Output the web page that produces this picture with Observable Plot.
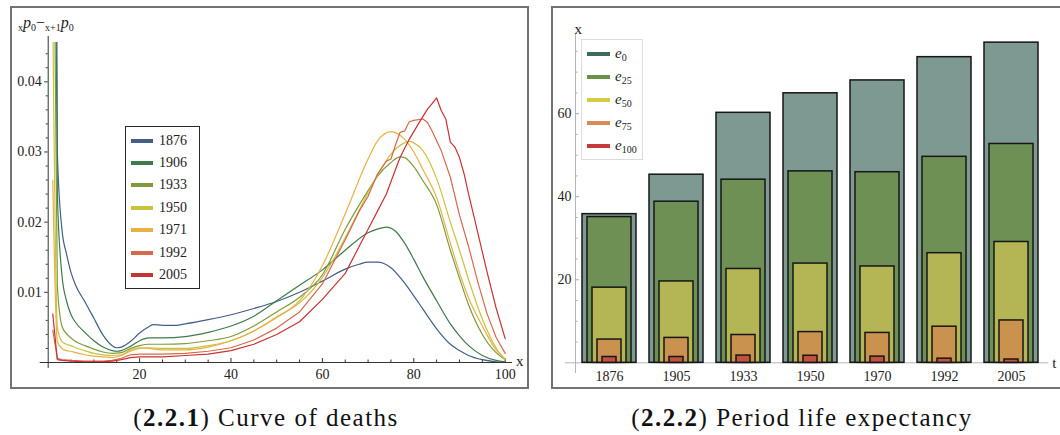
<!DOCTYPE html>
<html>
<head>
<meta charset="utf-8">
<script src="https://cdn.jsdelivr.net/npm/d3@7"></script>
<script src="https://cdn.jsdelivr.net/npm/@observablehq/plot@0.6"></script>
<style>
  html, body { margin: 0; padding: 0; background: #fff; }
  #page { position: relative; width: 1060px; height: 435px; overflow: hidden; font-family: "Liberation Serif", serif; color: #222; }
  .plotbox { position: absolute; }
  .plotbox svg { display: block; max-width: none; background: transparent; }
  .plotbox svg, .plotbox svg text { font-family: "Liberation Serif", serif !important; }
  .frame { position: absolute; border: 2px solid #737373; box-sizing: border-box; pointer-events: none; }
  .legend { position: absolute; background: #fff; box-sizing: border-box; }
  .legend .item { position: absolute; left: 0; height: 0; }
  .legend .sw { position: absolute; height: 4px; top: -2px; }
  .legend .lab { position: absolute; top: 0; transform: translateY(-50%); white-space: nowrap; line-height: 1; }
  .cap { position: absolute; text-align: center; font-size: 25px; letter-spacing: 1.5px; line-height: 28px; font-family: "Liberation Serif", serif; color: #111; }
  .cap b { font-weight: bold; }
</style>
</head>
<body>
<div id="page"></div>
<script>
// ---------- Curve of deaths: xp0 - x+1p0 by age, per period ----------
const deathYears = ["1876", "1906", "1933", "1950", "1971", "1992", "2005"];
const deathColors = ["#415f87", "#3f7a4a", "#7e9c3c", "#cbc23e", "#e8b045", "#d8694a", "#c83232"];

const age1876 = [1,2,3,4,5,6,8,10,12,14,15,16,18,20,22,23,25,28,30,35,40,45,50,55,60,65,68,70,72,75,78,80,82,85,88,90,92,95,98,100];
const d1876   = [0.19,0.030,0.019,0.0155,0.0128,0.0110,0.0087,0.0063,0.0039,0.0024,0.0021,0.0022,0.0030,0.0042,0.0051,0.0054,0.0053,0.0053,0.0055,0.0061,0.0068,0.0077,0.0087,0.0100,0.0116,0.0133,0.0140,0.0143,0.0143,0.0135,0.0113,0.0095,0.0076,0.0048,0.0026,0.0017,0.0010,0.0004,0.0001,0.0000];

const age1906 = [1,2,3,4,5,6,8,10,12,14,15,16,18,20,22,25,30,35,40,45,50,55,60,65,70,72,74,76,78,80,82,85,88,90,92,95,98,100];
const d1906   = [0.12,0.024,0.0125,0.0088,0.0068,0.0057,0.0043,0.0031,0.0022,0.0017,0.0016,0.0017,0.0023,0.0031,0.0035,0.0035,0.0037,0.0043,0.0052,0.0066,0.0088,0.0110,0.0132,0.0160,0.0185,0.0190,0.0193,0.0187,0.0170,0.0147,0.0122,0.0088,0.0055,0.0038,0.0024,0.0010,0.0003,0.0001];

const age1933 = [1,2,3,4,5,6,8,10,12,14,16,18,20,22,25,30,35,40,45,50,55,60,65,70,72,75,77,78,80,82,85,88,90,92,95,98,100];
const d1933   = [0.080,0.011,0.0052,0.0041,0.0035,0.0030,0.0024,0.0019,0.0015,0.0013,0.0014,0.0020,0.0024,0.0026,0.0026,0.0027,0.0031,0.0037,0.0052,0.0072,0.0093,0.0125,0.0190,0.0245,0.0265,0.0285,0.0293,0.0292,0.0279,0.0259,0.0225,0.0160,0.0120,0.0082,0.0040,0.0014,0.0004];

const age1950 = [1,2,3,4,5,6,8,10,12,14,16,18,20,22,25,30,35,40,45,50,55,60,65,70,72,75,78,79,80,82,85,88,90,92,95,98,100];
const d1950   = [0.050,0.0050,0.0030,0.0026,0.0024,0.0021,0.0017,0.0013,0.0011,0.0010,0.0011,0.0016,0.0020,0.0021,0.0020,0.0020,0.0024,0.0031,0.0045,0.0065,0.0085,0.0121,0.0178,0.0242,0.0266,0.0297,0.0313,0.0315,0.0313,0.0302,0.0262,0.0200,0.0160,0.0118,0.0062,0.0021,0.0004];

const age1971 = [1,2,3,4,5,6,8,10,12,14,16,18,20,22,25,30,35,40,45,50,55,60,65,70,72,75,78,80,82,85,88,90,92,95,98,100];
const d1971   = [0.026,0.0030,0.0020,0.0017,0.0016,0.0014,0.0011,0.0009,0.0008,0.0007,0.0010,0.0018,0.0021,0.0020,0.0018,0.0018,0.0022,0.0031,0.0045,0.0064,0.0088,0.0138,0.0212,0.0290,0.0315,0.0329,0.0318,0.0300,0.0275,0.0235,0.0170,0.0128,0.0092,0.0052,0.0018,0.0005];

const age1992 = [1,2,3,5,8,10,12,14,16,18,20,22,25,30,35,40,45,50,55,60,65,68,70,72,74,75,76,77,78,79,80,82,83,84,85,86,88,90,92,94,96,98,100];
const d1992   = [0.0046,0.0006,0.0004,0.0003,0.0002,0.0002,0.0002,0.0003,0.0006,0.0011,0.0012,0.0012,0.0012,0.0013,0.0016,0.0021,0.0032,0.0049,0.0072,0.0112,0.0175,0.0215,0.0237,0.0268,0.0287,0.0290,0.0310,0.0328,0.0330,0.0343,0.0345,0.0347,0.0342,0.0330,0.0316,0.0302,0.0264,0.0210,0.0165,0.0115,0.0070,0.0036,0.0013];

const age2005 = [1,2,3,5,8,10,12,14,16,18,20,25,30,35,40,45,50,55,60,65,70,72,74,76,77,79,81,83,84,85,86,87,88,89,90,91,92,94,96,98,100];
const d2005   = [0.0069,0.0004,0.0003,0.0002,0.0001,0.0001,0.0001,0.0002,0.0004,0.0007,0.0008,0.0008,0.0010,0.0012,0.0017,0.0026,0.0040,0.0058,0.0090,0.0127,0.0190,0.0215,0.0240,0.0275,0.0292,0.0318,0.0340,0.0361,0.0369,0.0377,0.0359,0.0347,0.0314,0.0307,0.0292,0.0269,0.0240,0.0185,0.0130,0.0078,0.0034];

const deathAges = [age1876, age1906, age1933, age1950, age1971, age1992, age2005];
const deathValues = [d1876, d1906, d1933, d1950, d1971, d1992, d2005];

const yTicksLeft = [0.01, 0.02, 0.03, 0.04];
const yMinorLeft = [0.002, 0.004, 0.006, 0.008, 0.012, 0.014, 0.016, 0.018, 0.022, 0.024, 0.026, 0.028, 0.032, 0.034, 0.036, 0.038, 0.042, 0.044];
const xTicksLeft = [20, 40, 60, 80, 100];
const xMinorLeft = [5, 10, 15, 25, 30, 35, 45, 50, 55, 65, 70, 75, 85, 90, 95];

// ---------- Period life expectancy ----------
const periods = ["1876", "1905", "1933", "1950", "1970", "1992", "2005"];
const e0   = [35.8, 45.3, 60.2, 64.9, 68.0, 73.6, 77.1];
const e25  = [35.1, 38.8, 44.1, 46.1, 45.9, 49.6, 52.7];
const e50  = [18.1, 19.6, 22.6, 23.9, 23.2, 26.4, 29.1];
const e75  = [5.6, 6.0, 6.7, 7.4, 7.2, 8.7, 10.2];
const e100 = [1.4, 1.4, 1.75, 1.7, 1.5, 1.0, 0.8];
const expSubs = ["0", "25", "50", "75", "100"];
const expFills = ["#7e9991", "#6e9055", "#b4b655", "#c9924e", "#c2513f"];
const expSwatches = ["#3e6b5e", "#6b9345", "#d6c943", "#d98a55", "#c53b3d"];
const yTicksRight = [20, 40, 60];
const yMinorRight = [5, 10, 15, 25, 30, 35, 45, 50, 55, 65, 70, 75];

const page = document.getElementById("page");
const serif = "Liberation Serif, serif";

// every text in the plots is set in the serif face
function serifize(svg) {
  d3.select(svg).selectAll("g, text, tspan").attr("font-family", serif).style("font-family", serif);
  d3.select(svg).style("font-family", serif);
  return svg;
}

// ---------- left chart ----------
const deathRows = deathYears.flatMap((yr, k) =>
  deathAges[k].map((a, i) => ({year: yr, age: a, d: deathValues[k][i]})));

const left = Plot.plot({
  width: 518, height: 381,
  marginLeft: 37.7, marginRight: 16, marginTop: 35, marginBottom: 26,
  style: {fontFamily: serif, fontSize: "13px", color: "#222", background: "transparent", overflow: "visible"},
  x: {domain: [0, 101.6], axis: null},
  y: {domain: [0, 0.0456], axis: null},
  color: {domain: deathYears, range: deathColors},
  marks: [
    Plot.ruleY([0], {stroke: "#333", strokeWidth: 1, insetLeft: -8}),
    Plot.ruleX([0], {stroke: "#333", strokeWidth: 1, insetTop: -6, insetBottom: -6}),
    Plot.axisY(yMinorLeft, {tickSize: 2, stroke: "#333", tickFormat: () => "", label: null}),
    Plot.axisY(yTicksLeft, {tickSize: 3.5, stroke: "#333", tickPadding: 3, tickFormat: d3.format(".2f"), label: null, fontSize: 14, fontFamily: serif}),
    Plot.axisX(xMinorLeft, {tickSize: -2.5, stroke: "#333", tickFormat: () => "", label: null}),
    Plot.axisX(xTicksLeft, {tickSize: -4, stroke: "#333", tickFormat: () => "", label: null}),
    Plot.axisX(xTicksLeft, {tickSize: 0, tickPadding: 7, label: null, fontSize: 14, fontFamily: serif}),
    Plot.line(deathRows, {x: "age", y: "d", z: "year", stroke: "year",
      curve: "monotone-x", strokeWidth: 1.2, clip: true,
      filter: d => d.year !== "1992" && d.year !== "2005"}),
    Plot.line(deathRows, {x: "age", y: "d", z: "year", stroke: "year",
      curve: "linear", strokeWidth: 1.2, clip: true,
      filter: d => d.year === "1992" || d.year === "2005"}),
    Plot.text(["x"], {frameAnchor: "bottom-right", dx: 11, dy: 3, fontSize: 15, fontFamily: serif})
  ]
});

// axis label  xp0 − x+1p0
{
  const svg = d3.select(left);
  const t = svg.append("text")
    .attr("x", 8).attr("y", 21)
    .attr("text-anchor", "start")
    .attr("font-size", 16).attr("fill", "#222");
  const sub = (s) => t.append("tspan").attr("font-size", 10).attr("dy", 3).text(s);
  const up = (s, italic) => t.append("tspan").attr("font-size", 16).attr("dy", -3)
      .attr("font-style", italic ? "italic" : null).text(s);
  sub("x");
  up("p", true);
  sub("0");
  up("\u2212", false);
  sub("x+1");
  up("p", true);
  sub("0");
}
serifize(left);

const leftBox = document.createElement("div");
leftBox.className = "plotbox";
leftBox.style.left = "10px"; leftBox.style.top = "7px";
leftBox.appendChild(left);
page.appendChild(leftBox);

// ---------- right chart ----------
const expValues = [e0, e25, e50, e75, e100];
const expRows = expValues.map(vals => periods.map((p, i) => ({period: p, value: vals[i]})));

const right = Plot.plot({
  width: 510, height: 381,
  marginLeft: 23, marginRight: 14, marginTop: 26, marginBottom: 16,
  style: {fontFamily: serif, fontSize: "13px", color: "#222", background: "transparent", overflow: "visible"},
  x: {type: "band", domain: periods, paddingInner: 0.19, paddingOuter: 0.104, align: 0.43, axis: null},
  y: {domain: [-2.33, 79.3], axis: null},
  marks: [
    Plot.ruleY([0], {stroke: "#b5b5b5", strokeWidth: 1, insetLeft: -10}),
    Plot.frame({anchor: "left", stroke: "#b5b5b5"}),
    Plot.axisY(yMinorRight, {tickSize: -2.5, stroke: "#aaa", tickFormat: () => "", label: null}),
    Plot.axisY(yTicksRight, {tickSize: -4, stroke: "#aaa", tickFormat: () => "", label: null}),
    Plot.axisY(yTicksRight, {tickSize: 0, tickPadding: 4, label: null, fontSize: 14, fontFamily: serif}),
    ...expRows.map((rows, k) => Plot.barY(rows, {
      x: "period", y: "value", fill: expFills[k], stroke: "#161616", strokeWidth: 1.5,
      insetLeft: 5 * k, insetRight: 5 * k
    })),
    Plot.axisX(periods, {tickSize: 0, tickPadding: -1.5, label: null, fontSize: 14, fontFamily: serif}),
    Plot.text(["x"], {frameAnchor: "top-left", dx: -1, dy: -10, fontSize: 15, fontFamily: serif}),
    Plot.text(["t"], {frameAnchor: "bottom-right", dx: 8, dy: -5, fontSize: 15, fontFamily: serif})
  ]
});
serifize(right);

const rightBox = document.createElement("div");
rightBox.className = "plotbox";
rightBox.style.left = "552px"; rightBox.style.top = "7px";
rightBox.appendChild(right);
page.appendChild(rightBox);

// ---------- frames ----------
function addFrame(l, t, w, h) {
  const f = document.createElement("div");
  f.className = "frame";
  Object.assign(f.style, {left: l + "px", top: t + "px", width: w + "px", height: h + "px"});
  page.appendChild(f);
}
addFrame(10, 6, 519, 383);
addFrame(551, 6, 530, 383);

// ---------- legends ----------
function addLegend(box, entries) {
  const lg = document.createElement("div");
  lg.className = "legend";
  Object.assign(lg.style, {left: box.l + "px", top: box.t + "px", width: box.w + "px", height: box.h + "px", border: box.border});
  entries.forEach((e, i) => {
    const it = document.createElement("div");
    it.className = "item";
    it.style.top = (box.first + box.step * i) + "px";
    const sw = document.createElement("div");
    sw.className = "sw";
    Object.assign(sw.style, {left: box.swL + "px", width: box.swW + "px", background: e.color});
    const lb = document.createElement("div");
    lb.className = "lab";
    lb.style.left = box.txL + "px";
    lb.style.fontSize = box.fs + "px";
    lb.innerHTML = e.html;
    it.appendChild(sw); it.appendChild(lb);
    lg.appendChild(it);
  });
  page.appendChild(lg);
}
addLegend({l: 125, t: 126, w: 75, h: 163, border: "1.5px solid #2a2a2a", first: 13.5, step: 22.4, swL: 4.5, swW: 22, txL: 33, fs: 14},
  deathYears.map((y, i) => ({color: deathColors[i], html: y})));
addLegend({l: 581, t: 39, w: 62, h: 121, border: "1px solid #dcdcdc", first: 14, step: 23.1, swL: 4.5, swW: 23, txL: 33, fs: 15},
  expSubs.map((s, i) => ({color: expSwatches[i], html: `<i>e</i><sub style="font-size:10px;vertical-align:-3px">${s}</sub>`})));

// ---------- captions ----------
function addCaption(cx, html) {
  const c = document.createElement("div");
  c.className = "cap";
  Object.assign(c.style, {left: (cx - 250) + "px", width: "500px", top: "404px"});
  c.innerHTML = html;
  page.appendChild(c);
}
addCaption(266, "(<b>2.2.1</b>) Curve of deaths");
addCaption(802, "(<b>2.2.2</b>) Period life expectancy");
</script>
</body>
</html>
